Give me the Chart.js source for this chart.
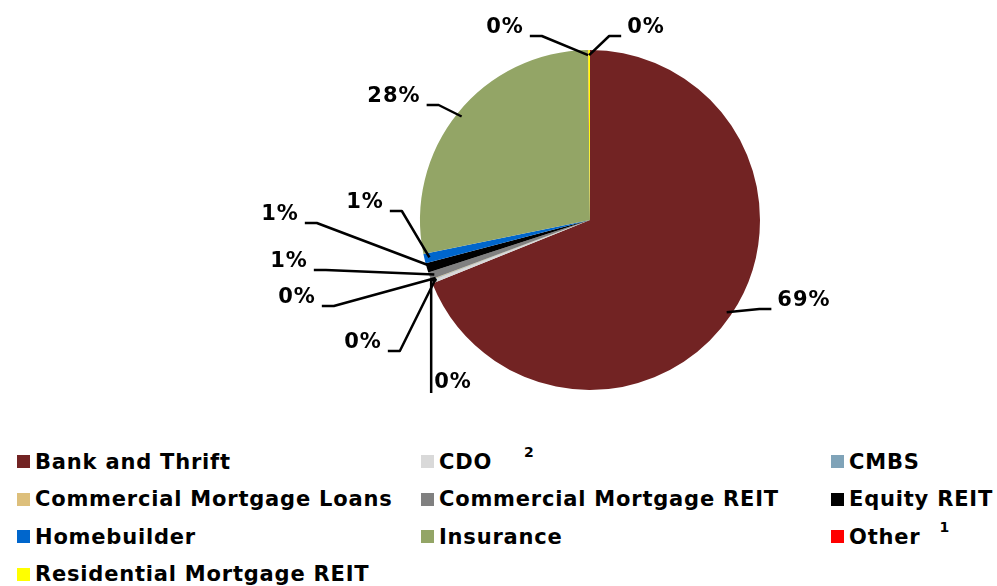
<!DOCTYPE html>
<html>
<head>
<meta charset="utf-8">
<script src="https://cdn.jsdelivr.net/npm/chart.js@4.4.1/dist/chart.umd.min.js"></script>
<style>
  html, body { margin: 0; padding: 0; background: #fff; }
  body { width: 997px; height: 586px; position: relative; overflow: hidden; font-family: "DejaVu Sans", sans-serif; }
  #pie { position: absolute; left: 0; top: 0; }
  #legend {
    position: absolute; left: 17px; top: 443px;
    display: grid; grid-template-columns: 404px 410px auto;
    grid-auto-rows: 37.5px; align-items: center;
    font-weight: bold; font-size: 21px; letter-spacing: 0.8px; color: #000;
  }
  .item { display: flex; align-items: center; white-space: nowrap; position: relative; }
  .box { width: 13px; height: 13px; margin-right: 5px; flex: none; }
  .note { font-size: 14px; position: relative; top: -10px; }
</style>
</head>
<body>
<canvas id="pie" width="997" height="440"></canvas>
<div id="legend"></div>
<script>
// sectors, clockwise from 12 o'clock
const categories = ['Bank and Thrift', 'CDO', 'CMBS', 'Commercial Mortgage Loans', 'Commercial Mortgage REIT',
  'Equity REIT', 'Homebuilder', 'Insurance', 'Other', 'Residential Mortgage REIT'];
const shares = [68.9, 0.3, 0.05, 0.05, 0.7, 0.9, 0.9, 28.0, 0.03, 0.17];
const footnotes = ['', '2', '', '', '', '', '', '', '1', ''];

const colors = ['#722323', '#d9d9d9', '#7fa3b8', '#ddbf7b', '#808080',
  '#000000', '#0066cc', '#93a566', '#ff0000', '#ffff00'];

// gap before each footnote marker in the legend
const noteGaps = [0, 32, 0, 0, 0, 0, 0, 0, 19, 0];

// where each percent label sits, relative to the pie centre; side = where the leader line leaves the text
const labelSpots = [
  [214, 81, 'l'], [-137, 163, 'v'], [-227, 123, 'r'], [-293, 78, 'r'], [-301, 42, 'r'],
  [-310, -5, 'r'], [-225, -17, 'r'], [-196, -123, 'r'], [-85, -192, 'r'], [56, -192, 'l']
];

const pctLabels = {
  id: 'pctLabels',
  afterDatasetsDraw(chart) {
    const ctx = chart.ctx;
    const meta = chart.getDatasetMeta(0);
    ctx.save();
    ctx.font = 'bold 21px "DejaVu Sans"';
    ctx.letterSpacing = '1px';
    ctx.textAlign = 'center';
    ctx.textBaseline = 'middle';
    ctx.strokeStyle = '#000';
    ctx.fillStyle = '#000';
    ctx.lineWidth = 2.5;
    ctx.lineJoin = 'round';
    meta.data.forEach((arc, i) => {
      const p = arc.getProps(['x', 'y', 'startAngle', 'endAngle', 'outerRadius'], true);
      const mid = (p.startAngle + p.endAngle) / 2;
      const ax = p.x + Math.cos(mid) * p.outerRadius * 0.97;
      const ay = p.y + Math.sin(mid) * p.outerRadius * 0.97;
      const [dx, dy, side] = labelSpots[i];
      const cx = p.x + dx, cy = p.y + dy;
      const text = Math.round(shares[i]) + '%';
      const w = ctx.measureText(text).width;
      ctx.beginPath();
      if (side === 'v') {
        const lx = cx - w / 2 - 3;
        ctx.moveTo(lx, cy + 10);
        ctx.lineTo(lx, ay);
        ctx.lineTo(ax, ay);
      } else {
        const dir = side === 'r' ? 1 : -1;
        const tx = cx + dir * (w / 2 + 6), ty = cy + 8;
        ctx.moveTo(tx, ty);
        ctx.lineTo(tx + dir * 12, ty);
        ctx.lineTo(ax, ay);
      }
      ctx.stroke();
      ctx.fillText(text, cx, cy);
    });
    ctx.restore();
  }
};

const chart = new Chart(document.getElementById('pie'), {
  type: 'pie',
  data: {
    labels: categories,
    datasets: [{
      data: shares,
      backgroundColor: colors,
      borderWidth: 0
    }]
  },
  options: {
    responsive: false,
    animation: false,
    events: [],
    layout: { padding: { left: 420, right: 237, top: 50, bottom: 50 } },
    plugins: {
      legend: { display: false },
      tooltip: { enabled: false }
    }
  },
  plugins: [pctLabels]
});

// legend as a 3-column grid, built from the chart's own legend items
const legendEl = document.getElementById('legend');
Chart.overrides.pie.plugins.legend.labels.generateLabels(chart).forEach((item, i) => {
  const div = document.createElement('div');
  div.className = 'item';
  div.innerHTML = '<span class="box" style="background:' + item.fillStyle + '"></span>' +
    '<span>' + item.text + '</span>' +
    (footnotes[i] ? '<span class="note" style="margin-left:' + noteGaps[i] + 'px">' + footnotes[i] + '</span>' : '');
  legendEl.appendChild(div);
});
</script>
</body>
</html>
